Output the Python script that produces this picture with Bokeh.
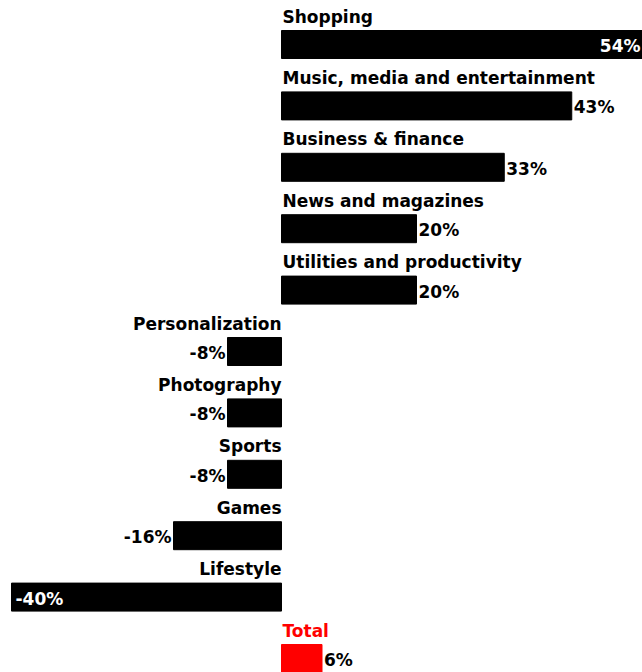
from bokeh.plotting import figure
from bokeh.models import ColumnDataSource, Range1d
from bokeh.core.properties import value
from bokeh.embed import file_html
from bokeh.resources import INLINE

categories = ["Shopping", "Music, media and entertainment", "Business & finance",
              "News and magazines", "Utilities and productivity", "Personalization",
              "Photography", "Sports", "Games", "Lifestyle", "Total"]
changes = [54, 43, 33, 20, 20, -8, -8, -8, -16, -40, 6]
highlight = ["Total"]

W, H = 642, 672
PX_PER = 6.75
ZERO_PX = 281
X0 = -ZERO_PX / PX_PER
X1 = (W - ZERO_PX) / PX_PER
ROW0, ROW_STEP, BAR_H = 44, 61.4, 28
FONT = value("DejaVu Sans")
FS = "17px"

p = figure(width=W, height=H, x_range=Range1d(X0, X1), y_range=Range1d(H, 0),
           output_backend="svg", toolbar_location=None, min_border=0,
           x_axis_location=None, y_axis_location=None)
p.grid.visible = False
p.outline_line_color = None
p.background_fill_color = "white"
p.border_fill_color = "white"

ys = [ROW0 + ROW_STEP * i for i in range(len(categories))]
colors = ["#ff0000" if c in highlight else "#000000" for c in categories]

bars = ColumnDataSource(dict(y=ys, left=[min(0, v) for v in changes],
                             right=[max(0, v) for v in changes], color=colors))
p.hbar(y="y", left="left", right="right", height=BAR_H, color="color", source=bars)

LAB_DY = -28
VAL_DY = 1.5

# category labels
pos_lab = ColumnDataSource(dict(x=[0] * sum(v >= 0 for v in changes),
                                y=[y + LAB_DY for y, v in zip(ys, changes) if v >= 0],
                                t=[c for c, v in zip(categories, changes) if v >= 0],
                                col=[c for c, v in zip(colors, changes) if v >= 0]))
neg_lab = ColumnDataSource(dict(x=[0] * sum(v < 0 for v in changes),
                                y=[y + LAB_DY for y, v in zip(ys, changes) if v < 0],
                                t=[c for c, v in zip(categories, changes) if v < 0]))
p.text(x="x", y="y", text="t", source=pos_lab, text_font=FONT, text_font_style="bold",
       text_font_size=FS, text_align="left", text_baseline="middle",
       text_color="col", x_offset=1)
p.text(x="x", y="y", text="t", source=neg_lab, text_font=FONT, text_font_style="bold",
       text_font_size=FS, text_align="right", text_baseline="middle",
       text_color="#000000", x_offset=0)

# value labels
def fmt(v):
    return f"{v}%"

out_pos = [(v, y) for v, y in zip(changes, ys) if 0 <= v < 50]
out_neg = [(v, y) for v, y in zip(changes, ys) if -30 < v < 0]
in_pos = [(v, y) for v, y in zip(changes, ys) if v >= 50]
in_neg = [(v, y) for v, y in zip(changes, ys) if v <= -30]

kw = dict(text_font=FONT, text_font_style="bold", text_font_size=FS,
          text_baseline="middle")
p.text(x=[v for v, _ in out_pos], y=[y + VAL_DY for _, y in out_pos],
       text=[fmt(v) for v, _ in out_pos], text_align="left", x_offset=2,
       text_color="#000000", **kw)
p.text(x=[v for v, _ in out_neg], y=[y + VAL_DY for _, y in out_neg],
       text=[fmt(v) for v, _ in out_neg], text_align="right", x_offset=-2,
       text_color="#000000", **kw)
p.text(x=[X1 for _ in in_pos], y=[y + VAL_DY for _, y in in_pos],
       text=[fmt(v) for v, _ in in_pos], text_align="right", x_offset=-2,
       text_color="#ffffff", **kw)
p.text(x=[v for v, _ in in_neg], y=[y + VAL_DY for _, y in in_neg],
       text=[fmt(v) for v, _ in in_neg], text_align="left", x_offset=4,
       text_color="#ffffff", **kw)

open("out.html", "w").write(file_html(p, INLINE))
